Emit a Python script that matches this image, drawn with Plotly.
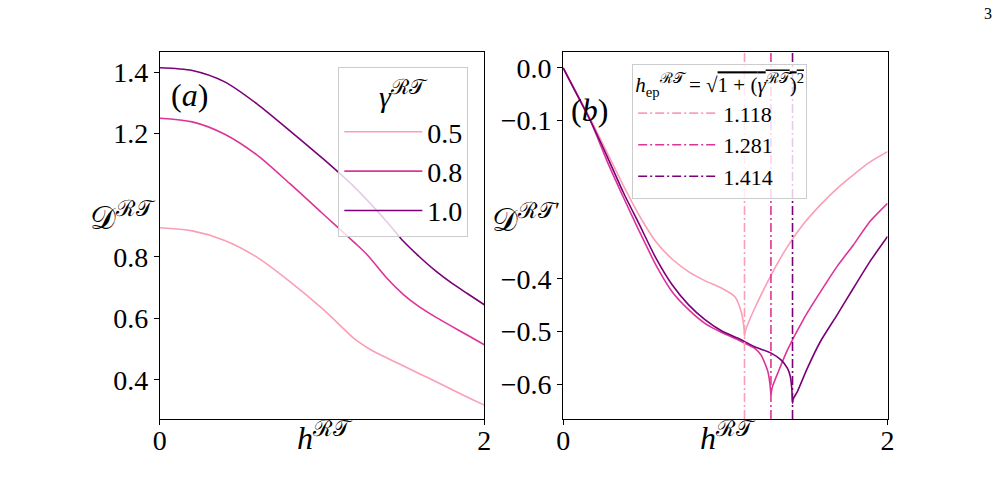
import plotly.graph_objects as go

# ---------------- data ----------------
gammas = ["0.5", "0.8", "1.0"]
colors = ["#fa9fb5", "#dd3497", "#7a0177"]

# panel (a)
ha_05 = [0, 0.2, 0.4, 0.6, 0.8, 1.0, 1.118, 1.2, 1.3, 1.4, 1.5, 1.6, 1.7, 1.8, 1.9, 2.0]
Da_05 = [0.894, 0.884, 0.853, 0.798, 0.720, 0.632, 0.574, 0.533, 0.498, 0.471, 0.446, 0.420, 0.395, 0.369, 0.343, 0.318]
ha_08 = [0, 0.2, 0.4, 0.6, 0.8, 1.0, 1.2, 1.281, 1.4, 1.5, 1.6, 1.7, 1.8, 1.9, 2.0]
Da_08 = [1.250, 1.238, 1.198, 1.130, 1.038, 0.942, 0.846, 0.805, 0.730, 0.678, 0.637, 0.604, 0.574, 0.544, 0.514]
ha_10 = [0, 0.2, 0.4, 0.6, 0.8, 1.0, 1.2, 1.414, 1.5, 1.6, 1.7, 1.8, 1.9, 2.0]
Da_10 = [1.414, 1.405, 1.368, 1.296, 1.210, 1.121, 1.026, 0.905, 0.851, 0.800, 0.754, 0.714, 0.679, 0.644]

# panel (b)
hb_05 = [0, 0.166, 0.268, 0.369, 0.471, 0.572, 0.673, 0.775, 0.876, 0.978, 1.059, 1.099, 1.110, 1.116, 1.118,
         1.121, 1.140, 1.181, 1.282, 1.383, 1.485, 1.586, 1.688, 1.789, 1.890, 2.0]
Db_05 = [0, -0.096, -0.159, -0.222, -0.281, -0.330, -0.363, -0.387, -0.404, -0.418, -0.434, -0.464, -0.482, -0.497, -0.509,
         -0.502, -0.485, -0.456, -0.393, -0.339, -0.295, -0.260, -0.229, -0.203, -0.179, -0.159]
hb_08 = [0, 0.166, 0.268, 0.369, 0.471, 0.572, 0.673, 0.775, 0.876, 0.978, 1.079, 1.181, 1.221, 1.262, 1.275,
         1.281, 1.285, 1.292, 1.323, 1.383, 1.485, 1.586, 1.688, 1.789, 1.890, 2.0]
Db_08 = [0, -0.099, -0.175, -0.244, -0.311, -0.374, -0.425, -0.459, -0.485, -0.502, -0.516, -0.532, -0.545, -0.576, -0.600,
         -0.620, -0.612, -0.603, -0.579, -0.535, -0.475, -0.425, -0.377, -0.336, -0.292, -0.257]
hb_10 = [0, 0.065, 0.166, 0.268, 0.369, 0.471, 0.572, 0.673, 0.775, 0.876, 0.978, 1.079, 1.181, 1.282, 1.343,
         1.383, 1.400, 1.410, 1.414, 1.418, 1.444, 1.505, 1.586, 1.688, 1.789, 1.890, 2.0]
Db_10 = [0, -0.039, -0.099, -0.166, -0.235, -0.298, -0.361, -0.412, -0.450, -0.478, -0.499, -0.513, -0.529, -0.541, -0.554,
         -0.570, -0.585, -0.610, -0.636, -0.628, -0.614, -0.570, -0.519, -0.469, -0.418, -0.368, -0.320]

h_ep = [1.118, 1.281, 1.414]
h_ep_labels = ["1.118", "1.281", "1.414"]

xa_ticks = [0, 2]
ya_ticks = [0.4, 0.6, 0.8, 1.2, 1.4]
yb_ticks = [0.0, -0.1, -0.4, -0.5, -0.6]
ya_range = [0.273, 1.465]
yb_range = [-0.666, 0.030]

FONT = "Liberation Serif, Times New Roman, serif"
LW = 1.6

fig = go.Figure()

for h, D, g, c in zip([ha_05, ha_08, ha_10], [Da_05, Da_08, Da_10], gammas, colors):
    fig.add_trace(go.Scatter(x=h, y=D, mode="lines", name=g,
                             line=dict(color=c, width=LW, shape="spline", smoothing=0.8),
                             xaxis="x", yaxis="y", legend="legend"))

for h, D, c in zip([hb_05, hb_08, hb_10], [Db_05, Db_08, Db_10], colors):
    fig.add_trace(go.Scatter(x=h, y=D, mode="lines", showlegend=False,
                             line=dict(color=c, width=LW, shape="spline", smoothing=0.6),
                             xaxis="x2", yaxis="y2"))

for he, lab, c in zip(h_ep, h_ep_labels, colors):
    fig.add_trace(go.Scatter(x=[he, he], y=yb_range, mode="lines", name=lab,
                             line=dict(color=c, width=LW, dash="9px,3px,2px,3px"),
                             xaxis="x2", yaxis="y2", legend="legend2"))

axis_common = dict(showline=True, linecolor="black", linewidth=1, mirror=True, ticks="outside",
                   ticklen=5, tickcolor="black", showgrid=False, zeroline=False,
                   tickfont=dict(family=FONT, size=28, color="black"))

ydom = [1 - 419 / 487, 1 - 52 / 487]
fig.update_layout(
    width=1006, height=487, margin=dict(l=0, r=0, t=0, b=0),
    paper_bgcolor="white", plot_bgcolor="white",
    xaxis=dict(domain=[155 / 1006, 484 / 1006], range=[0, 2], tickvals=xa_ticks, anchor="y",
               ticklabelstandoff=-9, **axis_common),
    yaxis=dict(domain=ydom, range=ya_range, tickvals=ya_ticks, anchor="x", **axis_common),
    xaxis2=dict(domain=[564 / 1006, 893 / 1006], range=[0, 2], tickvals=xa_ticks, anchor="y2",
                ticklabelstandoff=-9, **axis_common),
    yaxis2=dict(domain=ydom, range=yb_range, tickvals=yb_ticks, tickformat=".1f", anchor="x2", **axis_common),
    legend=dict(x=336 / 1006, y=1 - 67 / 487, xanchor="left", yanchor="top",
                bgcolor="rgba(255,255,255,0.8)", bordercolor="#cccccc", borderwidth=1,
                font=dict(family=FONT, size=28, color="black"),
                title=dict(text="<i>γ</i><sup>ℛ𝒯</sup>", side="top center",
                           font=dict(family=FONT, size=30, color="black")),
                tracegroupgap=4, itemwidth=78),
    legend2=dict(x=634 / 1006, y=1 - 64 / 487, xanchor="left", yanchor="top",
                 bgcolor="rgba(255,255,255,0.8)", bordercolor="#cccccc", borderwidth=1,
                 font=dict(family=FONT, size=22, color="black"),
                 title=dict(text="<i>h</i><sub>ep</sub><sup>ℛ𝒯</sup> = √<span style='text-decoration:overline'>1 + (<i>γ</i><sup>ℛ𝒯</sup>)<sup>2</sup></span>",
                            side="top center", font=dict(family=FONT, size=21, color="black")),
                 itemwidth=80),
    showlegend=True,
)

ann = []
def A(text, x, y, size, xanchor="center"):
    ann.append(dict(text=text, x=x / 1006, y=1 - y / 487, xref="paper", yref="paper", showarrow=False,
                    xanchor=xanchor, yanchor="middle", font=dict(family=FONT, size=size, color="black")))

A("(<i>a</i>)", 185, 95, 32)
A("(<i>b</i>)", 591, 110, 32)
A("𝒟<sup>ℛ𝒯</sup>", 118, 216, 32)
A("𝒟<sup>ℛ𝒯′</sup>", 526, 218, 32)
A("<i>h</i><sup>ℛ𝒯</sup>", 322, 436, 32)
A("<i>h</i><sup>ℛ𝒯</sup>", 731, 436, 32)
A("3", 995, 14, 16)
fig.update_layout(annotations=ann)

fig.write_html("out.html")
